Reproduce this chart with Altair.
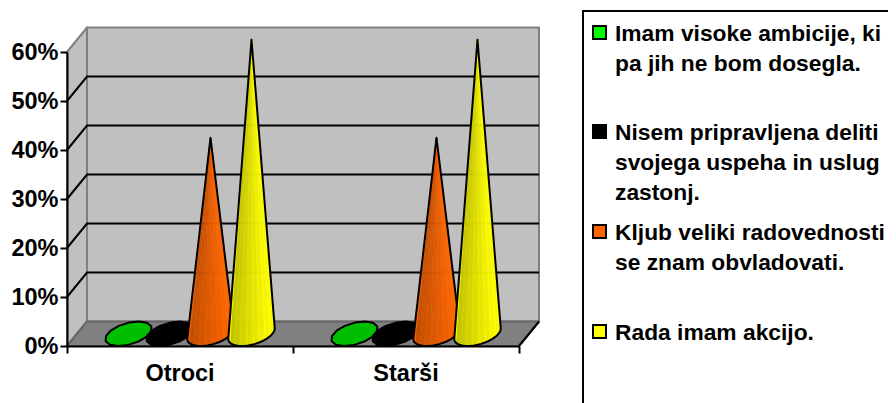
import math
import altair as alt
import pandas as pd

categories = ["Otroci", "Starši"]
series = ["Imam visoke ambicije, ki pa jih ne bom dosegla.",
          "Nisem pripravljena deliti svojega uspeha in uslug zastonj.",
          "Kljub veliki radovednosti se znam obvladovati.",
          "Rada imam akcijo."]
values_otroci = [0, 0, 40, 60]
values_starsi = [0, 0, 40, 60]
legend_lines = [["Imam visoke ambicije, ki", "pa jih ne bom dosegla."],
                ["Nisem pripravljena deliti", "svojega uspeha in uslug", "zastonj."],
                ["Kljub veliki radovednosti", "se znam obvladovati."],
                ["Rada imam akcijo."]]
legend_colors = ["#00ff00", "#000000", "#ff6600", "#ffff00"]
y_ticks = [0, 10, 20, 30, 40, 50, 60]

FONT = "Liberation Sans"
W, H = 452, 294
X0, Y0 = 67, 52
PX_C = W / 2
PX_V = H / 60
DEPTH_X = 20 / PX_C     # category units per unit of depth
DEPTH_V = 5.0           # percent units per unit of depth
xs = alt.Scale(domain=[0, 2], range=[0, W], nice=False, zero=False)
ys = alt.Scale(domain=[0, 60], range=[H, 0], nice=False, zero=False)
X_ENC = alt.X("x:Q", scale=xs, title=None)
Y_ENC = alt.Y("y:Q", scale=ys, title=None)


def page_x(px):
    return (px - X0) / PX_C


def page_y(py):
    return 60 - (py - Y0) / PX_V


def proj(c, v, d):
    return c + d * DEPTH_X, v + d * DEPTH_V


def shade(col, f):
    r, g, b = int(col[1:3], 16), int(col[3:5], 16), int(col[5:7], 16)
    return "#%02x%02x%02x" % (round(r * f), round(g * f), round(b * f))


def polys(rows, strokeWidth=None, stroke=None):
    """rows: list of (id, fill, [(x, y), ...])"""
    recs = []
    for pid, fill, pts in rows:
        for i, (x, y) in enumerate(pts):
            recs.append({"pid": pid, "x": x, "y": y, "i": i, "fill": fill,
                         "stroke": stroke or fill})
    return alt.Chart(pd.DataFrame(recs)).mark_line(
        interpolate="linear-closed", strokeWidth=strokeWidth or 1,
        strokeJoin="round", clip=False
    ).encode(
        x=X_ENC, y=Y_ENC,
        detail="pid:N",
        order="i:Q",
        fill=alt.Fill("fill:N", scale=None),
        stroke=alt.Stroke("stroke:N", scale=None),
    )


def seg(points, color, width):
    df = pd.DataFrame([{"x": p[0], "y": p[1], "i": i} for i, p in enumerate(points)])
    return alt.Chart(df).mark_line(color=color, strokeWidth=width, clip=False).encode(
        x=X_ENC, y=Y_ENC, order="i:Q",
    )


layers = []

# axes carriers
axis_df = pd.DataFrame({"x": [0, 2], "y": [0, 60]})
axes = alt.Chart(axis_df).mark_point(opacity=0).encode(
    x=alt.X("x:Q", scale=xs, axis=alt.Axis(
        values=[0, 1, 2], labels=False, title=None, grid=False, tickSize=7, tickWidth=2,
        tickColor="black", domainColor="black", domainWidth=2, zindex=1)),
    y=alt.Y("y:Q", scale=ys, axis=alt.Axis(
        values=y_ticks, labelExpr="datum.value + '%'", title=None, grid=False,
        tickSize=7, tickWidth=2, tickColor="black", domainColor="black", domainWidth=2,
        labelFont=FONT, labelFontWeight="bold", labelFontSize=23.5, labelColor="black",
        labelPadding=2, zindex=1)),
)
layers.append(axes)

# walls and floor
layers.append(polys([("back", "#c0c0c0", [proj(0, 0, 1), proj(2, 0, 1), proj(2, 60, 1), proj(0, 60, 1)])],
                    strokeWidth=2, stroke="#808080"))
layers.append(polys([("left", "#c0c0c0", [proj(0, 0, 0), proj(0, 0, 1), proj(0, 60, 1), proj(0, 60, 0)])],
                    strokeWidth=2, stroke="#808080"))
layers.append(polys([("floor", "#808080", [proj(0, 0, 0), proj(2, 0, 0), proj(2, 0, 1), proj(0, 0, 1)])],
                    strokeWidth=2, stroke="#666666"))
layers.append(seg([proj(2, 0, 0), proj(2, 0, 1)], "#000000", 2))

# gridlines
for t in y_ticks[1:-1]:
    layers.append(seg([proj(0, t, 0), proj(0, t, 1), proj(2, t, 1)], "#000000", 2))

# cones
BAR_STEP = 41 / PX_C
RADIUS = 21 / PX_C


def base_pt(cx, t):
    return proj(cx + RADIUS * math.cos(t), 0, 0.5 + 0.5 * math.sin(t))


for ci, vals in enumerate([values_otroci, values_starsi]):
    for si, v in enumerate(vals):
        cx = ci + 0.5 + (si - 1.5) * BAR_STEP
        col = legend_colors[si]
        apex = proj(cx, v, 0.5)
        if v == 0:
            n = 14
            pts = [base_pt(cx, 2 * math.pi * k / n + 0.2) for k in range(n)]
            fill = shade(col, 0.75)
            layers.append(polys([(f"d{ci}{si}", fill, pts)], strokeWidth=2, stroke="#000000"))
            continue
        t0, t1 = math.radians(206), math.radians(386)
        n = 22
        arc = [t0 + (t1 - t0) * k / n for k in range(n + 1)]
        facets = []
        for k in range(n):
            xfrac = (math.cos((arc[k] + arc[k + 1]) / 2 - math.radians(26) + math.pi) + 1) / 2
            f = 1.0 - 0.25 * xfrac if k >= 3 else 1.0
            f += 0.03 if k % 2 else 0
            facets.append((f"f{k:02d}", shade(col, min(f, 1.0)),
                           [base_pt(cx, arc[k]), base_pt(cx, arc[k + 1]), apex]))
        layers.append(polys(facets, strokeWidth=0.5))
        outline = [(apex)] + [base_pt(cx, t) for t in arc]
        layers.append(polys([(f"o{ci}{si}", "transparent", outline)], strokeWidth=2, stroke="#000000"))

# category labels
cat_df = pd.DataFrame({"x": [i + 0.5 for i in range(len(categories))], "y": [0] * len(categories), "t": categories})
layers.append(alt.Chart(cat_df).mark_text(font=FONT, fontWeight="bold", fontSize=23.5, color="black",
                                          dy=35, baseline="alphabetic", align="center").encode(
    x=X_ENC, y=Y_ENC, text="t:N"))

# legend box
box = pd.DataFrame({"x": [page_x(583)], "x2": [page_x(1000)], "y": [page_y(11)], "y2": [page_y(600)]})
layers.append(alt.Chart(box).mark_rect(fill="white", stroke="black", strokeWidth=2, clip=False).encode(
    x=X_ENC, x2="x2:Q", y=Y_ENC, y2="y2:Q"))

# legend entries
sw, tx = [], []
row_y = [33, 132, 232, 332]
for i, lines in enumerate(legend_lines):
    sw.append({"x": page_x(593), "x2": page_x(606), "y": page_y(row_y[i] - 7), "y2": page_y(row_y[i] + 6),
               "c": legend_colors[i]})
    for j, s in enumerate(lines):
        tx.append({"x": page_x(615), "y": page_y(row_y[i] + 8 + j * 30), "t": s})
layers.append(alt.Chart(pd.DataFrame(sw)).mark_rect(stroke="black", strokeWidth=2, clip=False).encode(
    x=X_ENC, x2="x2:Q", y=Y_ENC, y2="y2:Q",
    fill=alt.Fill("c:N", scale=None)))
layers.append(alt.Chart(pd.DataFrame(tx)).mark_text(font=FONT, fontWeight="bold", fontSize=22.8, color="black",
                                                    align="left", baseline="alphabetic").encode(
    x=X_ENC, y=Y_ENC, text="t:N"))

chart = alt.layer(*layers).properties(
    width=W, height=H,
    padding={"left": X0 - 8, "top": Y0 - 8, "right": 880 - (X0 - 8) - W, "bottom": 395 - (Y0 - 8) - H},
    autosize=alt.AutoSizeParams(type="none"),
    background="white",
).configure_view(stroke=None)

chart.save("out.html", embed_options={"renderer": "svg", "actions": False})
